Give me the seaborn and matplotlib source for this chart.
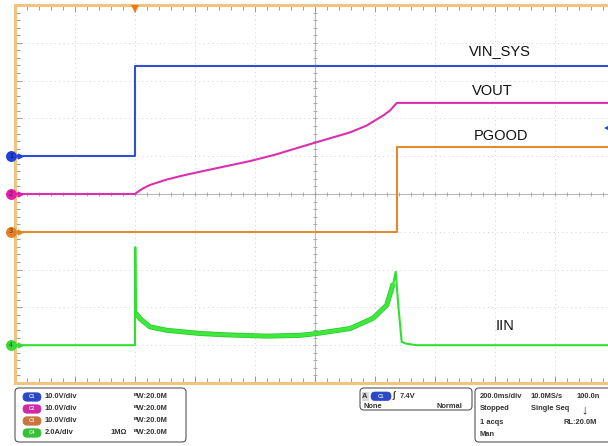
import numpy as np
import pandas as pd
import matplotlib
matplotlib.use("Agg")
import matplotlib.pyplot as plt
import seaborn as sns
from matplotlib.patches import FancyBboxPatch

# ---------------- data (read from the scope screen) ----------------
# time in ms relative to trigger; 200 ms/div
t_vin = [-400, 0, 0, 1600]
v_vin = [0.0, 0.0, 23.8, 23.8]                      # V, CH1

t_vout = [-400, 0, 8, 25, 50, 105, 160, 217, 300, 383, 467, 550, 661, 717, 772, 828, 850, 873, 1600]
v_vout = [0.0, 0.0, 0.5, 1.4, 2.4, 3.8, 4.9, 5.9, 7.3, 8.7, 10.4, 12.4, 15.0, 16.3, 18.1, 20.8, 22.1, 24.1, 24.1]  # V, CH2

t_pg = [-400, 873, 873, 1600]
v_pg = [0.0, 0.0, 22.4, 22.4]                       # V, CH3

t_iin = [-400, 0, 1, 3, 17, 50, 105, 217, 300, 439, 550, 606, 717, 794, 839, 861, 869, 878, 889, 905, 939, 1600]
i_iin = [0.0, 0.0, 5.19, 1.69, 1.40, 0.97, 0.79, 0.62, 0.55, 0.48, 0.52, 0.62, 0.88, 1.43, 2.12, 3.27, 3.88, 2.03, 0.17, 0.08, 0.0, 0.0]  # A, CH4

ch_names = ["VIN_SYS", "VOUT", "PGOOD", "IIN"]
ch_offset_div = [1.0, 0.0, -1.0, -4.0]
ch_per_div = [10.0, 10.0, 10.0, 2.0]
ch_scale_txt = ["10.0V/div", "10.0V/div", "10.0V/div", "2.0A/div"]
bw_txt = "\u1d2eW:20.0M"
trig_level = 7.4   # V on CH1
timebase = ["200.0ms/div", "10.0MS/s", "100.0n"]
acq_txt = ["Stopped", "Single Seq"]
acq2_txt = ["1 acqs", "RL:20.0M"]

# ---------------- style ----------------
sns.set_style("white")
plt.rcParams["font.family"] = ["Liberation Sans", "DejaVu Sans"]

W, H = 608, 446
trace_col = ["#2f50d4", "#dc2fae", "#e38b2c", "#30e030"]
dot_col = ["#2040d8", "#e020a8", "#e08228", "#3ad83a"]
num_col = ["#101860", "#701050", "#703010", "#106010"]
pill_col = ["#2a48c8", "#d22aa6", "#c8763a", "#34c034"]
tan = "#efc47c"

fig = plt.figure(figsize=(W / 100, H / 100), dpi=100)
fig.patch.set_facecolor("white")

# overlay in pixel coordinates for the info panel
pan = fig.add_axes([0, 0, 1, 1], zorder=0)
pan.set_xlim(0, W)
pan.set_ylim(H, 0)
pan.axis("off")

# main scope screen: x 15..615 px, y 5..383 px
top_px, bot_px, left_px = 5.0, 383.0, 15.0
ax = fig.add_axes([left_px / W, (H - bot_px) / H, 600 / W, (bot_px - top_px) / H], zorder=2)
ax.set_facecolor("white")
ax.set_xlim(-400, 1600)
ax.set_ylim(-5, 5)

def px_to_data(xp, yp):
    t = -400 + (xp - left_px) / 600 * 2000
    d = 5 - (yp - top_px) / (bot_px - top_px) * 10
    return t, d

# ticks & borders
ax.set_xticks(np.arange(-400, 1601, 200))
ax.set_xticks(np.arange(-400, 1601, 40), minor=True)
ax.set_yticks(np.arange(-5, 5.01, 1))
ax.set_yticks(np.arange(-5, 5.01, 0.2), minor=True)
ax.tick_params(which="both", direction="in", top=True, bottom=True, left=True, right=False,
               labelbottom=False, labelleft=False, color="#8a8a8a", width=0.6)
ax.tick_params(which="major", length=5)
ax.tick_params(which="minor", length=3.6)
for s in ["left", "top", "bottom"]:
    ax.spines[s].set_color(tan)
    ax.spines[s].set_linewidth(2.2)
ax.spines["right"].set_visible(False)

# dotted graticule
for xv in np.arange(-400, 1601, 200):
    if xv not in (-400, 600, 1600):
        ax.axvline(xv, color="#d2d2d2", lw=0.7, ls=(0, (1, 3.5)), zorder=0)
for yv in range(-4, 5):
    if yv != 0:
        ax.axhline(yv, color="#d2d2d2", lw=0.7, ls=(0, (1, 3.5)), zorder=0)
# centre cross with tick marks
ax.axvline(600, color="#b8b8b8", lw=0.8, zorder=0)
ax.axhline(0, color="#b8b8b8", lw=0.8, zorder=0)
xm = np.arange(-400, 1601, 40)
ax.plot(xm, np.zeros_like(xm, dtype=float), ls="none", marker="|", ms=3.5, mew=0.6, color="#a0a0a0", zorder=0)
ym = np.arange(-5, 5.01, 0.2)
ax.plot(np.full_like(ym, 600.0), ym, ls="none", marker="_", ms=3.5, mew=0.6, color="#a0a0a0", zorder=0)

# ---------------- traces ----------------
series = [(t_vin, v_vin), (t_vout, v_vout), (t_pg, v_pg), (t_iin, i_iin)]
frames = []
for k, (tt, vv) in enumerate(series):
    df = pd.DataFrame({"t": tt, "val": vv})
    df["div"] = ch_offset_div[k] + df["val"] / ch_per_div[k]
    df["ch"] = ch_names[k]
    frames.append(df)

for k, df in enumerate(frames):
    sns.lineplot(data=df, x="t", y="div", ax=ax, color=trace_col[k], lw=1.5,
                 estimator=None, sort=False, zorder=3)

# IIN ripple band (thicker, noisy envelope)
band = frames[3][(frames[3]["t"] >= 3) & (frames[3]["t"] <= 861)]
sns.lineplot(data=band, x="t", y="div", ax=ax, color="#28c828", lw=3.6,
             estimator=None, sort=False, zorder=3, solid_capstyle="butt")
sns.lineplot(data=band, x="t", y="div", ax=ax, color="#3ee83e", lw=2.6,
             estimator=None, sort=False, zorder=3, solid_capstyle="butt")

# channel ground markers
tx, _ = px_to_data(11, 0)
ta, _ = px_to_data(20, 0)
for k in range(4):
    ax.scatter([tx], [ch_offset_div[k]], s=62, color=dot_col[k], clip_on=False, zorder=6, linewidths=0)
    ax.text(tx, ch_offset_div[k], str(k + 1), ha="center", va="center", fontsize=5,
            color=num_col[k], zorder=7, clip_on=False)
    ax.plot([ta], [ch_offset_div[k]], marker=">", ms=3.5, color=dot_col[k], clip_on=False, zorder=6)

# trigger position & level markers
_, dtop = px_to_data(0, 8.5)
ax.plot([0], [dtop], marker="v", ms=5.5, color="#f07818", clip_on=False, zorder=6, mew=0)
tr_t, _ = px_to_data(607, 0)
ax.plot([tr_t], [ch_offset_div[0] + trig_level / ch_per_div[0]], marker="<", ms=4,
        color="#2040d8", clip_on=False, zorder=6, mew=0)

# labels
label_px = [(500, 51), (492, 91), (501, 136), (505, 326)]
for k in range(4):
    lt, ld = px_to_data(*label_px[k])
    ax.text(lt, ld, ch_names[k], ha="center", va="center", fontsize=10.5, color="#111111", zorder=5)

# ---------------- info panel ----------------
def box(x0, y0, x1, y1, r=4, ec="#555555", fc="none", lw=0.8, z=1):
    p = FancyBboxPatch((x0, y0), x1 - x0, y1 - y0, boxstyle=f"round,pad=0,rounding_size={r}",
                       ec=ec, fc=fc, lw=lw, zorder=z)
    pan.add_patch(p)

def txt(x, y, s, ha="left", fs=5.4, color="#333333", bold=True):
    pan.text(x, y, s, ha=ha, va="center", fontsize=fs, color=color,
             fontweight="bold" if bold else "normal", family=["Liberation Sans", "DejaVu Sans"])

box(15, 388, 186, 442)
rows = [397, 409, 421, 433]
for k in range(4):
    box(23, rows[k] - 4.2, 41, rows[k] + 4.2, r=4, ec=pill_col[k], fc=pill_col[k], lw=0.5, z=2)
    txt(32, rows[k], f"C{k + 1}", ha="center", fs=3.6, color="#e8e8e8")
    txt(45, rows[k], ch_scale_txt[k])
    txt(168, rows[k], bw_txt, ha="right")
txt(127, rows[3], "1M\u03a9", ha="right")

# trigger box
box(360, 388, 472, 410)
pan.add_patch(plt.Rectangle((361.5, 391.5), 7, 9, fc="#d8d8d8", ec="none", zorder=2))
txt(365, 396, "A", ha="center")
box(371, 392, 391, 400.5, r=4, ec=pill_col[0], fc=pill_col[0], lw=0.5, z=2)
txt(381, 396.3, "C1", ha="center", fs=3.6, color="#e8e8e8")
txt(393, 396, "\u222b", fs=6.5)
txt(400, 396, f"{trig_level}V")
txt(364, 407, "None")
txt(462, 407, "Normal", ha="right")

# timebase box
box(475, 388, 640, 442)
rows2 = [396, 409, 422, 435]
txt(480, rows2[0], timebase[0])
txt(531, rows2[0], timebase[1])
txt(577, rows2[0], timebase[2])
txt(480, rows2[1], acq_txt[0])
txt(531, rows2[1], acq_txt[1])
txt(584, rows2[1] + 1, "\u2193", ha="center", fs=9, color="#222222")
txt(480, rows2[2], acq2_txt[0])
txt(597, rows2[2], acq2_txt[1], ha="right")
txt(480, rows2[3], "Man")

fig.savefig("out.png", dpi=100, facecolor="white")
